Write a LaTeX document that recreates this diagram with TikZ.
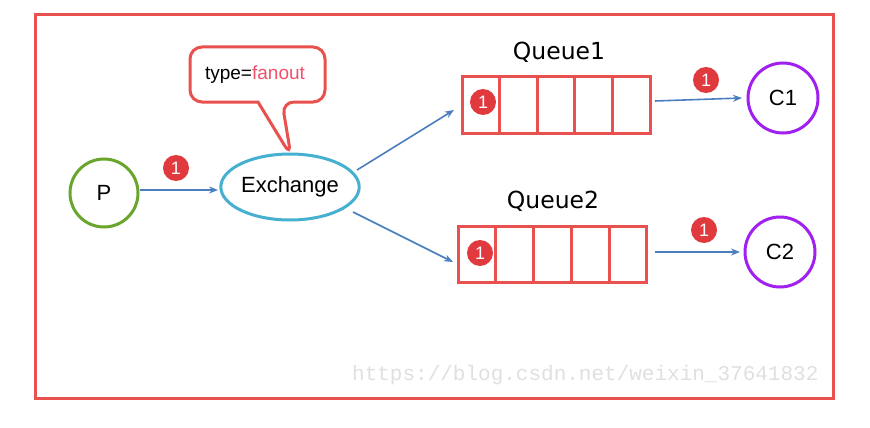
\documentclass[tikz,border=0pt]{standalone}
\usepackage{fontspec}
\setmainfont{Liberation Sans}
\newfontfamily\verd{DejaVu Sans}
\newfontfamily\wmfont{Liberation Mono}
\usetikzlibrary{shapes.geometric,arrows.meta,calc}
\definecolor{bordred}{HTML}{E8514D}
\definecolor{pgreen}{HTML}{6AA52E}
\definecolor{exblue}{HTML}{45B0D0}
\definecolor{cpurple}{HTML}{A020F0}
\definecolor{arrblue}{HTML}{4A7EBF}
\definecolor{badgered}{HTML}{E0393E}
\definecolor{fanred}{HTML}{F0506A}
\tikzset{
  circnode/.style={circle,line width=3pt,minimum size=68pt,inner sep=0pt,font=\fontsize{22}{26}\selectfont},
  badge/.style={circle,fill=badgered,text=white,minimum size=26pt,inner sep=0pt,font=\fontsize{18}{21}\selectfont},
  flow/.style={arrblue,line width=1.6pt,-{Stealth[length=9pt,width=7pt]}},
  qcell/.style={draw=bordred,line width=3pt,minimum width=37.6pt,minimum height=56pt,inner sep=0pt},
  qlabel/.style={font=\verd\fontsize{23.5}{28}\selectfont},
}
\begin{document}
\begin{tikzpicture}[x=1pt,y=-1pt]
\useasboundingbox (0,0) rectangle (870,428);
\fill[white] (0,0) rectangle (870,428);
\draw[bordred,line width=3pt] (35,15) rectangle (833,398);

% watermark
\node[anchor=east,text=black!12,font=\wmfont\fontsize{21}{25}\selectfont] (wm) at (822,375) {https://blog.csdn.net/weixin\_37641832};

% P
\node[circnode,draw=pgreen] (P) at (104,193) {P};
% Exchange
\node[ellipse,draw=exblue,line width=3pt,minimum width=136pt,minimum height=66pt,inner sep=0pt,font=\fontsize{22}{26}\selectfont] (ex) at (290,187) {Exchange};

% callout
\coordinate (tip) at (291,156);
\draw[bordred,line width=3pt,fill=white,rounded corners=12pt]
  (190,47) -- (325,47) -- (325,102) -- (282,102) -- (tip) [sharp corners] -- (258,102) [rounded corners=12pt] -- (190,102) -- cycle;
\node[font=\fontsize{19}{22}\selectfont] (type) at (255,75) {type=\textcolor{fanred}{fanout}};

% Queue1
\foreach \i in {0,...,4} {
  \node[qcell] (qa\i) at ({480.8+37.6*\i},105) {};
}
\node[qlabel] (q1lab) at (559,52) {Queue1};
% Queue2
\foreach \i in {0,...,4} {
  \node[qcell] (qb\i) at ({476.8+37.8*\i},254.5) {};
}
\node[qlabel] (q2lab) at (553,201) {Queue2};

% consumers
\node[circnode,draw=cpurple,minimum size=70pt] (C1) at (783,98) {C1};
\node[circnode,draw=cpurple,minimum size=70pt] (C2) at (780,252) {C2};

% arrows
\coordinate (pa) at (140,190);
\coordinate (pb) at (218,190);
\draw[flow] (pa) -- (pb);
\coordinate (e1a) at (357,170);
\coordinate (e1b) at (454,110);
\draw[flow] (e1a) -- (e1b);
\coordinate (e2a) at (353,212);
\coordinate (e2b) at (453,262);
\draw[flow] (e2a) -- (e2b);
\coordinate (c1a) at (655,101);
\coordinate (c1b) at (742,98);
\draw[flow] (c1a) -- (c1b);
\coordinate (c2a) at (655,252);
\coordinate (c2b) at (740,252);
\draw[flow] (c2a) -- (c2b);

% badges
\node[badge] (b1) at (176,168) {1};
\node[badge] (b2) at (483,102) {1};
\node[badge] (b3) at (480,253) {1};
\node[badge] (b4) at (706,80) {1};
\node[badge] (b5) at (704,230) {1};
\end{tikzpicture}
\end{document}
